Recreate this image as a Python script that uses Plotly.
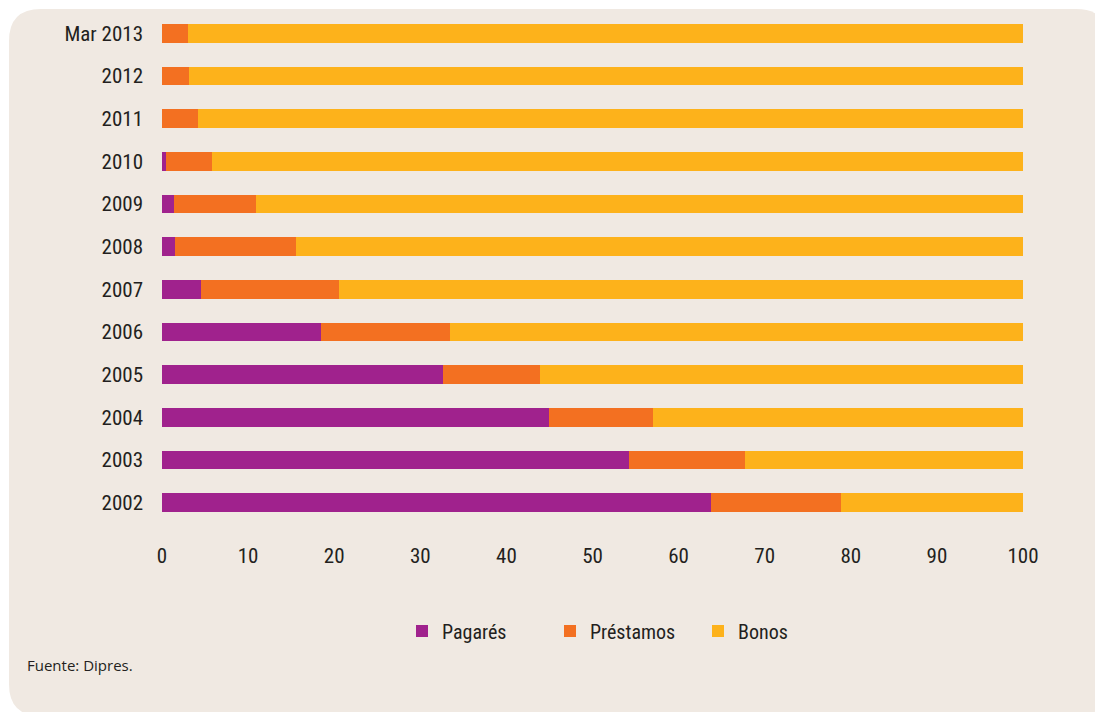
import plotly.graph_objects as go

categories = ["2002", "2003", "2004", "2005", "2006", "2007", "2008", "2009", "2010", "2011", "2012", "Mar 2013"]
pagares = [63.8, 54.2, 44.9, 32.6, 18.5, 4.5, 1.5, 1.4, 0.5, 0.0, 0.0, 0.0]
prestamos = [15.1, 13.5, 12.1, 11.3, 14.9, 16.1, 14.1, 9.5, 5.3, 4.2, 3.1, 3.0]
bonos = [round(100 - a - b, 1) for a, b in zip(pagares, prestamos)]
x_ticks = [0, 10, 20, 30, 40, 50, 60, 70, 80, 90, 100]
series_names = ["Pagarés", "Préstamos", "Bonos"]
colors = ["#A0228D", "#F37021", "#FDB21B"]

W, H = 1103, 712
OFF = 8  # page body margin
L, R, T, B = 162 - OFF, W - (1023 - OFF), 12 - OFF, H - (524 - OFF)
pw, ph = W - L - R, H - T - B

def px_x(x):
    return (x - OFF - L) / pw

def px_y(y):
    return 1 - (y - OFF - T) / ph

cond = "Roboto Condensed, sans-serif"
tick_font = dict(family=cond, size=21, color="#231F20")

fig = go.Figure()
for name, vals, col in zip(series_names, [pagares, prestamos, bonos], colors):
    fig.add_trace(go.Bar(
        y=categories, x=vals, name=name, orientation="h",
        marker=dict(color=col, line=dict(width=0)), width=0.445,
    ))

# rounded background panel
x0, x1, y0, y1, r = 9, 1108, 9, 716, 32
rx, ry = r / pw, r / ph
X0, X1, Y0, Y1 = px_x(x0), px_x(x1), px_y(y0), px_y(y1)
path = (f"M {X0+rx},{Y0} L {X1-rx},{Y0} Q {X1},{Y0} {X1},{Y0-ry} "
        f"L {X1},{Y1+ry} Q {X1},{Y1} {X1-rx},{Y1} "
        f"L {X0+rx},{Y1} Q {X0},{Y1} {X0},{Y1+ry} "
        f"L {X0},{Y0-ry} Q {X0},{Y0} {X0+rx},{Y0} Z")
fig.add_shape(type="path", path=path, xref="paper", yref="paper",
              fillcolor="#F0E9E2", line=dict(width=0), layer="below")

fig.add_annotation(text="Fuente: Dipres.", xref="paper", yref="paper",
                   x=px_x(25), y=px_y(665), xanchor="left", yanchor="middle",
                   showarrow=False, font=dict(family="Open Sans", size=15, color="#231F20"))

fig.update_layout(
    width=W, height=H,
    margin=dict(l=L, r=R, t=T, b=B, autoexpand=False),
    paper_bgcolor="white", plot_bgcolor="rgba(0,0,0,0)",
    barmode="stack", bargap=0,
    showlegend=True,
    legend=dict(orientation="h", x=px_x(402), y=px_y(631), xanchor="left", yanchor="middle",
                font=dict(family=cond, size=20, color="#231F20"),
                bgcolor="rgba(0,0,0,0)", entrywidth=103, entrywidthmode="pixels",
                traceorder="normal"),
    xaxis=dict(range=[0, 100], tickvals=x_ticks, showgrid=False, zeroline=False,
               showline=False, ticks="", ticklabelstandoff=17, tickfont=tick_font),
    yaxis=dict(categoryorder="array", categoryarray=categories, range=[-0.5, 11.5],
               showgrid=False, zeroline=False, showline=False, ticks="",
               ticklabelstandoff=18, tickfont=tick_font),
)

fig.write_html("out.html")
